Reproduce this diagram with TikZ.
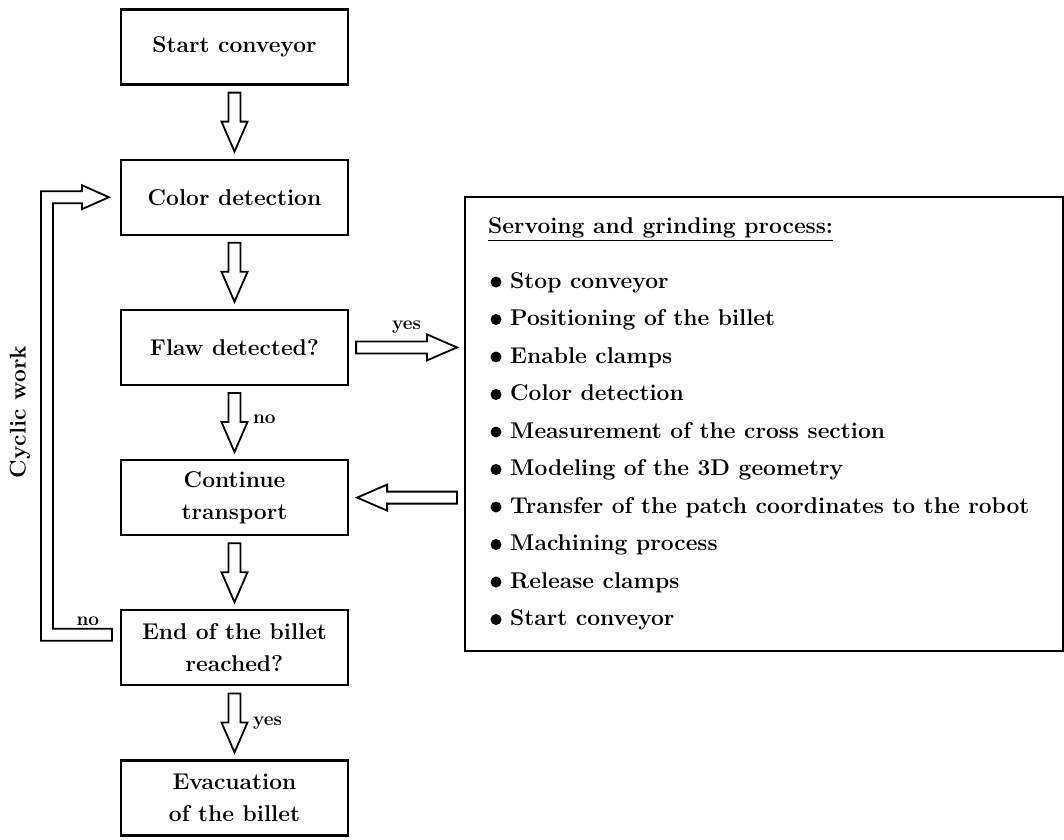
\documentclass[tikz,border=0pt]{standalone}
\usepackage{amsmath}
\usepackage{tikz}
\usetikzlibrary{calc,positioning}

\tikzset{
  box/.style={draw, line width=2.2pt, minimum width=227pt, minimum height=75pt,
    align=center, inner sep=0pt},
  fatarrow/.style={line width=1.8pt, to path={
      ($(\tikztotarget)!30pt!(\tikztostart)$) coordinate (hd)
      ($(\tikztostart)!6pt!90:(\tikztotarget)$)
      -- ($(hd)!6pt!90:(\tikztotarget)$) -- ($(hd)!13pt!90:(\tikztotarget)$)
      -- (\tikztotarget)
      -- ($(hd)!13pt!-90:(\tikztotarget)$) -- ($(hd)!6pt!-90:(\tikztotarget)$)
      -- ($(\tikztostart)!6pt!-90:(\tikztotarget)$) -- cycle}},
  lbl/.style={font=\fontsize{19}{22}\selectfont\bfseries}
}

\begin{document}
\begin{tikzpicture}[x=1pt, y=-1pt, node distance=73pt,
    font=\fontsize{22.8}{32}\selectfont\bfseries]
  \useasboundingbox (0,0) rectangle (1064,839);
  % main column
  \node[box] (start) at (234.5,47) {Start conveyor};
  \node[box, below=of start] (color) {Color detection};
  \node[box, below=of color] (flaw) {Flaw detected?};
  \node[box, below=of flaw] (cont) {Continue\\transport};
  \node[box, below=of cont] (endb) {End of the billet\\reached?};
  \node[box, below=of endb] (evac) {Evacuation\\of the billet};
  \draw[fatarrow] ([yshift=-7pt]start.south) to ([yshift=7pt]color.north);
  \draw[fatarrow] ([yshift=-7pt]color.south) to ([yshift=7pt]flaw.north);
  \draw[fatarrow] ([yshift=-7pt]flaw.south) to ([yshift=7pt]cont.north);
  \draw[fatarrow] ([yshift=-7pt]cont.south) to ([yshift=7pt]endb.north);
  \draw[fatarrow] ([yshift=-7pt]endb.south) to ([yshift=7pt]evac.north);
  \node[lbl, anchor=west] (no1) at ($(flaw.south)!.5!(cont.north)+(15,-3)$) {no};
  \node[lbl, anchor=west] (yes2) at ($(endb.south)!.5!(evac.north)+(15,0)$) {yes};
  % servoing box
  \node[draw, line width=2.2pt, anchor=north west, minimum width=598pt,
    minimum height=454pt] (servo) at (464,196) {};
  \node[anchor=base west, inner sep=0pt] (title) at (488,233)
    {\underline{Servoing and grinding process:}};
  \foreach \txt [count=\i from 0] in {Stop conveyor, Positioning of the billet,
      Enable clamps, Color detection, Measurement of the cross section,
      Modeling of the 3D geometry, Transfer of the patch coordinates to the robot,
      Machining process, Release clamps, Start conveyor} {
    \fill (496,282+37.5*\i) circle (5.5pt);
    \node[anchor=base west, inner sep=0pt] (item\i) at (510,288+37.5*\i) {\txt};
  }
  \draw[fatarrow] ([xshift=7pt]flaw.east) to ([xshift=-7pt]servo.west |- flaw.east);
  \node[lbl, above=11pt] (yes1) at ($(flaw.east)!.5!(servo.west |- flaw.east)$) {yes};
  \draw[fatarrow] ([xshift=-7pt]servo.west |- cont.east) to ([xshift=8pt]cont.east);
  % cyclic loop
  \coordinate (lt) at ([xshift=-11pt]color.west);
  \coordinate (lb) at ([xshift=-8pt,yshift=13pt]endb.west);
  \draw[line width=1.8pt] ($(lb)+(0,6)$) -- ++(-71,0) |- ($(lt)+(-27,-6)$)
    -- ++(0,-6) -- (lt) -- ($(lt)+(-27,12)$) -- ++(0,-6) -- ++(-29,0)
    |- ($(lb)+(0,-6)$) -- cycle;
  \node[lbl] (no2) at ($(lb)+(-24,-14)$) {no};
  \node[rotate=90] (cyclic) at (20,412) {Cyclic work};
\end{tikzpicture}
\end{document}
